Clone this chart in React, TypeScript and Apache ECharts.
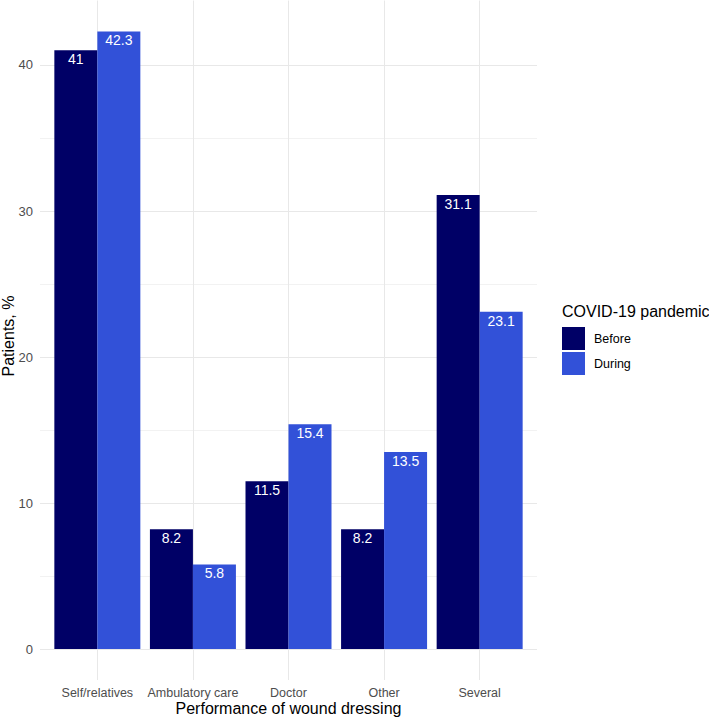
import React, { useEffect, useRef } from "react";
import * as echarts from "echarts";

const categories = ["Self/relatives", "Ambulatory care", "Doctor", "Other", "Several"];
const before = [41, 8.2, 11.5, 8.2, 31.1];
const during = [42.3, 5.8, 15.4, 13.5, 23.1];
const yMajorTicks = [0, 10, 20, 30, 40];
const yMinorTicks = [5, 15, 25, 35];
const seriesNames = ["Before", "During"];

const yMin = -2.115;
const yMax = 44.415;

export default function App() {
  const ref = useRef<HTMLDivElement>(null);
  useEffect(() => {
    if (!ref.current) return;
    const chart = echarts.init(ref.current, null, { renderer: "svg" });
    const font = "Liberation Sans, Arial, sans-serif";
    const labelStyle = {
      show: true,
      position: "insideTop",
      distance: 2,
      color: "#ffffff",
      fontSize: 14,
      fontFamily: font,
    };
    const xIdx = categories.map((_, i) => i);
    chart.setOption({
      animation: false,
      backgroundColor: "#ffffff",
      grid: [
        { left: 40, right: 172, top: 0.5, bottom: 38, containLabel: false },
      ],
      xAxis: [
        {
          type: "value",
          min: -0.6,
          max: 4.6,
          axisLine: { show: false },
          axisTick: { show: false, customValues: xIdx },
          splitLine: { show: true, lineStyle: { color: "#e8e8e8", width: 1 } },
          axisLabel: {
            customValues: xIdx,
            formatter: (v: number) => categories[Math.round(v)] ?? "",
            color: "#4d4d4d",
            fontSize: 12.5,
            fontFamily: font,
            margin: 6,
          },
        },
      ],
      yAxis: [
        {
          type: "value",
          min: yMin,
          max: yMax,
          axisLine: { show: false },
          axisTick: { show: false, customValues: yMajorTicks },
          splitLine: { show: true, lineStyle: { color: "#e8e8e8", width: 1 } },
          axisLabel: {
            customValues: yMajorTicks,
            color: "#4d4d4d",
            fontSize: 13,
            fontFamily: font,
            margin: 7,
          },
        },
        {
          type: "value",
          min: yMin,
          max: yMax,
          position: "left",
          axisLine: { show: false },
          axisTick: { show: false, customValues: yMinorTicks },
          splitLine: { show: true, lineStyle: { color: "#efefef", width: 0.8 } },
          axisLabel: { show: false, customValues: yMinorTicks },
        },
      ],
      legend: {
        orient: "vertical",
        left: 562,
        top: 327,
        padding: 0,
        itemWidth: 23,
        itemHeight: 23,
        itemGap: 2,
        icon: "rect",
        data: seriesNames,
        textStyle: {
          color: "#000000",
          fontSize: 12.5,
          fontFamily: font,
          padding: [0, 0, 0, 4],
        },
      },
      graphic: [
        {
          type: "text",
          left: 562,
          top: 303,
          style: { text: "COVID-19 pandemic", fill: "#000", fontSize: 16, fontFamily: font },
        },
        {
          type: "text",
          x: 288.5,
          y: 708,
          style: {
            text: "Performance of wound dressing",
            fill: "#000",
            fontSize: 16,
            fontFamily: font,
            align: "center",
            verticalAlign: "middle",
          },
        },
        {
          type: "text",
          x: 8,
          y: 336,
          rotation: Math.PI / 2,
          style: {
            text: "Patients, %",
            fill: "#000",
            fontSize: 16,
            fontFamily: font,
            align: "center",
            verticalAlign: "middle",
          },
        },
      ],
      series: [
        {
          name: seriesNames[0],
          type: "bar",
          xAxisIndex: 0,
          yAxisIndex: 0,
          barWidth: 43,
          barGap: "0%",
          itemStyle: { color: "#000066" },
          label: labelStyle,
          data: before.map((v, i) => [i, v]),
        },
        {
          name: seriesNames[1],
          type: "bar",
          xAxisIndex: 0,
          yAxisIndex: 0,
          barWidth: 43,
          barGap: "0%",
          itemStyle: { color: "#3251d8" },
          label: labelStyle,
          data: during.map((v, i) => [i, v]),
        },
      ],
    });
    return () => chart.dispose();
  }, []);
  return <div ref={ref} style={{ width: 709, height: 718, position: "absolute", left: 0, top: 0 }} />;
}
